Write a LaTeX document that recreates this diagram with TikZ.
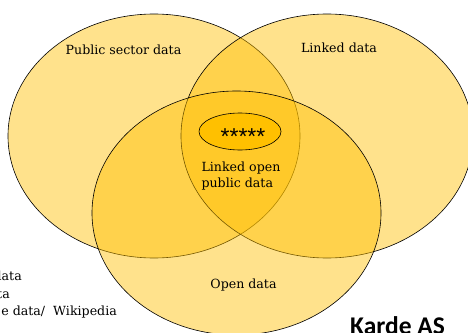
\documentclass[tikz,border=0pt]{standalone}
\usetikzlibrary{shapes.geometric}
\usepackage{fontspec}
\setmainfont{DejaVu Serif}
\newfontfamily\karde{Carlito}
\newfontfamily\starfont{Liberation Sans}
\definecolor{venn}{RGB}{255,192,0}
\begin{document}
\begin{tikzpicture}[x=1pt,y=-1pt,
  vennset/.style={fill=venn,fill opacity=0.45,draw=black,line width=0.6pt},
  lbl/.style={font=\fontsize{12.6}{16.5}\selectfont,text=black,inner sep=0pt}]
\useasboundingbox (0,0) rectangle (468,332);
\fill[white] (0,0) rectangle (468,332);
\path[vennset] (154,136) ellipse [x radius=146, y radius=122];
\path[vennset] (327,136) ellipse [x radius=146, y radius=122];
\path[vennset] (236.5,213) ellipse [x radius=144.5, y radius=122];
% small ellipse
\node[ellipse,draw=black,line width=0.6pt,fill=venn,minimum width=82pt,minimum height=37pt,inner sep=0pt] (stars) at (240,131.5) {};
\node[font=\starfont\fontsize{23}{23}\selectfont,inner sep=0pt] (st) at (243,137) {*****};
\node[lbl] (psd) at (123.5,50) {Public sector data};
\node[lbl] (ld) at (339,48) {Linked data};
\node[lbl,align=left] (lopd) at (241,176) {Linked open\\public data};
\node[lbl] (od) at (243.5,285) {Open data};
\node[lbl,anchor=east] (t1) at (22,276) {data};
\node[lbl,anchor=east] (t2) at (10,294) {ta};
\node[lbl,anchor=east] (t3) at (117,312) {e data/\ \ Wikipedia};
\node[font=\karde\bfseries\fontsize{25.5}{25.5}\selectfont,anchor=north west,inner sep=0pt] (karde) at (350,316) {Karde AS};
\end{tikzpicture}
\end{document}
